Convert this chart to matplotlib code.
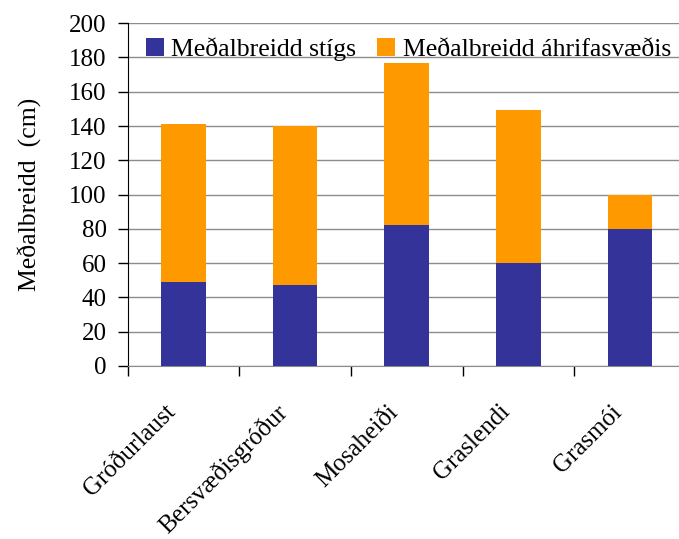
import matplotlib.pyplot as plt
import numpy as np

categories = ["Gróðurlaust", "Bersvæðisgróður", "Mosaheiði", "Graslendi", "Grasmói"]
path_width = [49, 47.5, 82.5, 60, 80]          # Meðalbreidd stígs
total_width = [141, 140, 177, 149.5, 100]      # top of the stacked bar
impact_width = [t - p for t, p in zip(total_width, path_width)]  # Meðalbreidd áhrifasvæðis

BLUE = "#333399"
ORANGE = "#FF9900"
GRID = "#8c8c8c"

plt.rcParams["font.family"] = ["Liberation Serif", "DejaVu Serif"]

fig = plt.figure(figsize=(6.79, 5.39), dpi=100)
ax = fig.add_axes([0.188, 0.321, 0.822, 0.636])

x = np.arange(len(categories))
ax.bar(x, path_width, width=0.4, color=BLUE, label="Meðalbreidd stígs", zorder=3)
ax.bar(x, impact_width, width=0.4, bottom=path_width, color=ORANGE,
       label="Meðalbreidd áhrifasvæðis", zorder=3)

ax.set_xlim(-0.5, len(categories) - 0.5)
ax.set_ylim(0, 200)
ax.set_yticks(range(0, 201, 20))
ax.yaxis.grid(True, color=GRID, lw=1.0, zorder=0)
ax.tick_params(axis="y", labelsize=18, length=7, direction="out", width=1, pad=8)

# ticks sit between categories; category names are placed by hand below
ax.set_xticks(np.arange(len(categories)) - 0.5)
ax.set_xticklabels([])
ax.tick_params(axis="x", length=7, width=1, direction="out")
for i, name in enumerate(categories):
    ax.annotate(name, xy=(x[i], 0), xycoords=("data", "axes fraction"),
                xytext=(-14, -25), textcoords="offset points",
                rotation=45, ha="right", va="top", rotation_mode="anchor",
                fontsize=18, annotation_clip=False)

for s in ("top", "right"):
    ax.spines[s].set_visible(False)
ax.spines["bottom"].set_color(GRID)
ax.spines["left"].set_color("black")

ax.set_ylabel("Meðalbreidd  (cm)", fontsize=18.5, labelpad=20)

ax.legend(loc="upper left", bbox_to_anchor=(0.0, 1.012), ncol=2, frameon=False,
          fontsize=18.5, handlelength=0.7, handleheight=0.7, handletextpad=0.3,
          columnspacing=0.8, borderaxespad=0.3)

fig.savefig("out.png", dpi=100)
